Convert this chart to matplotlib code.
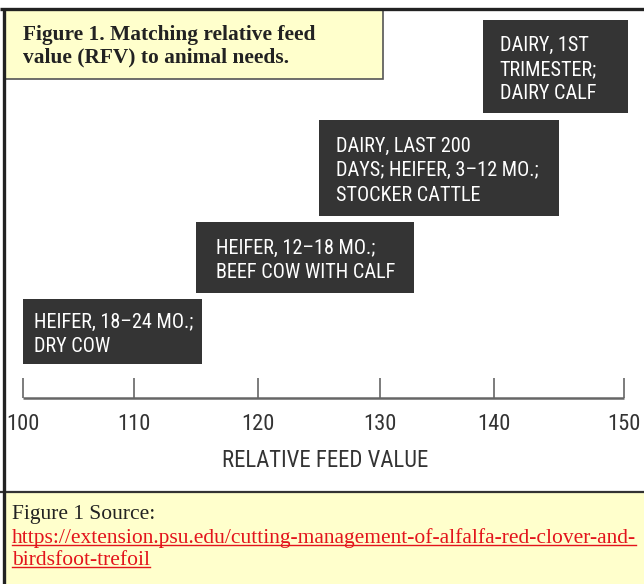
import matplotlib.pyplot as plt
from matplotlib.patches import Rectangle
import numpy as np

# RFV range matched to each class of animal
groups = ['HEIFER, 18–24 MO.;\nDRY COW',
          'HEIFER, 12–18 MO.;\nBEEF COW WITH CALF',
          'DAIRY, LAST 200\nDAYS; HEIFER, 3–12 MO.;\nSTOCKER CATTLE',
          'DAIRY, 1ST\nTRIMESTER;\nDAIRY CALF']
rfv_low = [100, 115, 125, 139]
rfv_high = [115.5, 133, 145, 150.3]
rfv_ticks = [100, 110, 120, 130, 140, 150]

title = 'Figure 1. Matching relative feed\nvalue (RFV) to animal needs.'
source = 'Figure 1 Source:'
link = ['https://extension.psu.edu/cutting-management-of-alfalfa-red-clover-and-',
        'birdsfoot-trefoil']
xlabel = 'RELATIVE FEED VALUE'

## layout (pixels)
W, H = 644, 584
tick_px = [22.7, 134, 258, 380, 494, 624]  # the drawn axis isn't evenly spaced
box_top = [299, 222, 120, 20]
box_bot = [364, 293, 216, 113]
text_pad = [11, 20, 17, 17]
PT = 0.72  # points per pixel at dpi 100

narrow = ['Roboto Condensed', 'DejaVu Sans']
serif = ['Liberation Serif', 'DejaVu Serif']
yellow = '#ffffcc'

fig = plt.figure(figsize=(W / 100, H / 100), dpi=100)

# frame, title box and source panel in plain pixel coords
bg = fig.add_axes([0, 0, 1, 1])
bg.set_xlim(0, W)
bg.set_ylim(H, 0)
bg.axis('off')
bg.add_patch(Rectangle((5, 10), 378, 69, fc=yellow, ec='#555555', lw=1.2))
bg.add_patch(Rectangle((5, 493), W, H - 493, fc=yellow, ec='none'))
bg.plot([0, W], [9, 9], c='#222222', lw=2.4, solid_capstyle='butt')
bg.plot([0, W], [492, 492], c='#333333', lw=1.6, solid_capstyle='butt')
bg.plot([4, 4], [8, H], c='#222222', lw=2.4, solid_capstyle='butt')

for i, line in enumerate(title.split('\n')):
    bg.text(23, 40 + 22 * i, line, family=serif, weight='bold', fontsize=15.4,
            color='#222222', va='baseline')
bg.text(12, 519, source, family=serif, fontsize=15.45, color='#222222', va='baseline')
link_txt = [bg.text(12, 543 + 22 * i, s, family=serif, fontsize=15.45,
                    color='#e3141c', va='baseline') for i, s in enumerate(link)]

# chart: x in RFV through a scale that follows the drawn ticks, y in pixel rows
ext_v = [90] + rfv_ticks + [160]
ext_p = [tick_px[0] - 120] + tick_px + [tick_px[-1] + 120]
fwd = lambda v: np.interp(v, ext_v, ext_p)
inv = lambda p: np.interp(p, ext_p, ext_v)

ax = fig.add_axes([0, 0, 1, 1])
ax.patch.set_alpha(0)
ax.set_xscale('function', functions=(fwd, inv))
ax.set_xlim(inv(0), inv(W))
ax.set_ylim(H, 0)
ax.axis('off')

lo = np.array(rfv_low)
hi = np.array(rfv_high)
top = np.array(box_top)
bot = np.array(box_bot)
mid = (top + bot) / 2
ax.barh(mid, hi - lo, left=lo, height=bot - top, color='#343434')

for g, x0, y, pad in zip(groups, lo, mid, text_pad):
    ax.annotate(g, (x0, y), xytext=(pad * PT, -2), textcoords='offset points',
                ha='left', va='center', color='white', fontsize=14.6,
                family=narrow, linespacing=1.35)

ax.plot([rfv_ticks[0], rfv_ticks[-1]], [398, 398], c='#666666', lw=1.8,
        solid_capstyle='butt')
ax.vlines(rfv_ticks, 378, 398, colors='#666666', lw=1.2)
for t in rfv_ticks:
    ax.text(t, 430, str(t), ha='center', va='baseline', fontsize=16.2,
            family=narrow, color='#333333')
ax.text(125.5, 467, xlabel, ha='center', va='baseline', fontsize=16.4,
        family=narrow, color='#333333')

# underline the link
fig.canvas.draw()
r = fig.canvas.get_renderer()
for t in link_txt:
    bb = t.get_window_extent(r)
    y = t.get_position()[1] + 2
    bg.plot([bb.x0, bb.x1], [y, y], c='#e3141c', lw=1.0)

fig.savefig('out.png', dpi=100)
